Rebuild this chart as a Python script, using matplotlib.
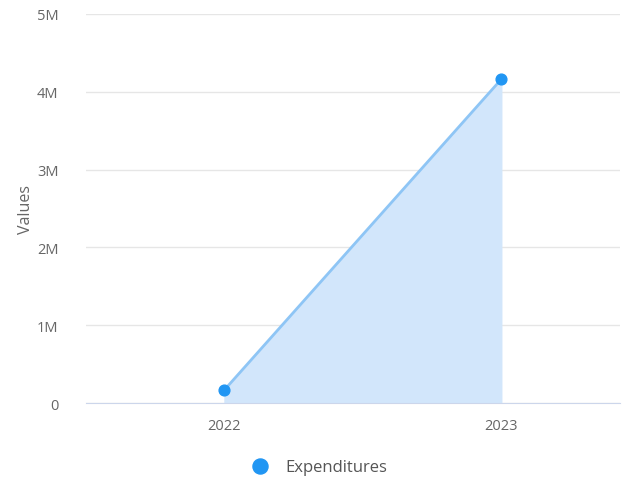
import matplotlib
matplotlib.use("Agg")
import matplotlib.pyplot as plt
from matplotlib.ticker import FuncFormatter

# Data
years = ["2022", "2023"]
expenditures = [170000, 4160000]

plt.rcParams['font.family'] = ['Open Sans', 'DejaVu Sans']

fig = plt.figure(figsize=(6.24, 4.81), dpi=100)
ax = fig.add_axes([0.138, 0.160, 0.856, 0.809])

x = list(range(len(years)))

# Filled area under the line, then the line and the points
ax.fill_between(x, expenditures, 0, color="#d2e6fb", zorder=1)
ax.plot(x, expenditures, color="#8ec5f5", linewidth=2, zorder=2)
ax.scatter(x, expenditures, s=60, color="#2196f3", zorder=3, label="Expenditures")

ax.set_xlim(-0.5, 1.43)
ax.set_ylim(0, 5000000)
ax.set_xticks(x)
ax.set_xticklabels(years)
ax.set_yticks([0, 1000000, 2000000, 3000000, 4000000, 5000000])


def fmt_millions(v, pos):
    if v == 0:
        return "0"
    return "%dM" % (v / 1000000)


ax.yaxis.set_major_formatter(FuncFormatter(fmt_millions))

# Grid and spines
ax.grid(axis="y", color="#e6e6e6", linewidth=1)
ax.set_axisbelow(True)
for side in ["top", "right", "left"]:
    ax.spines[side].set_visible(False)
ax.spines["bottom"].set_color("#ccd6eb")
ax.tick_params(axis="both", length=0, colors="#666666", labelsize=10.5)
ax.tick_params(axis="x", pad=11)
ax.tick_params(axis="y", pad=20)

ax.set_ylabel("Values", color="#666666", fontsize=11.5, labelpad=2)

# Legend below the chart
fig.legend(loc="center", bbox_to_anchor=(0.505, 0.028), frameon=False,
           fontsize=12, labelcolor="#555555", handletextpad=0.5,
           markerscale=1.4)

fig.savefig("out.png", dpi=100)
